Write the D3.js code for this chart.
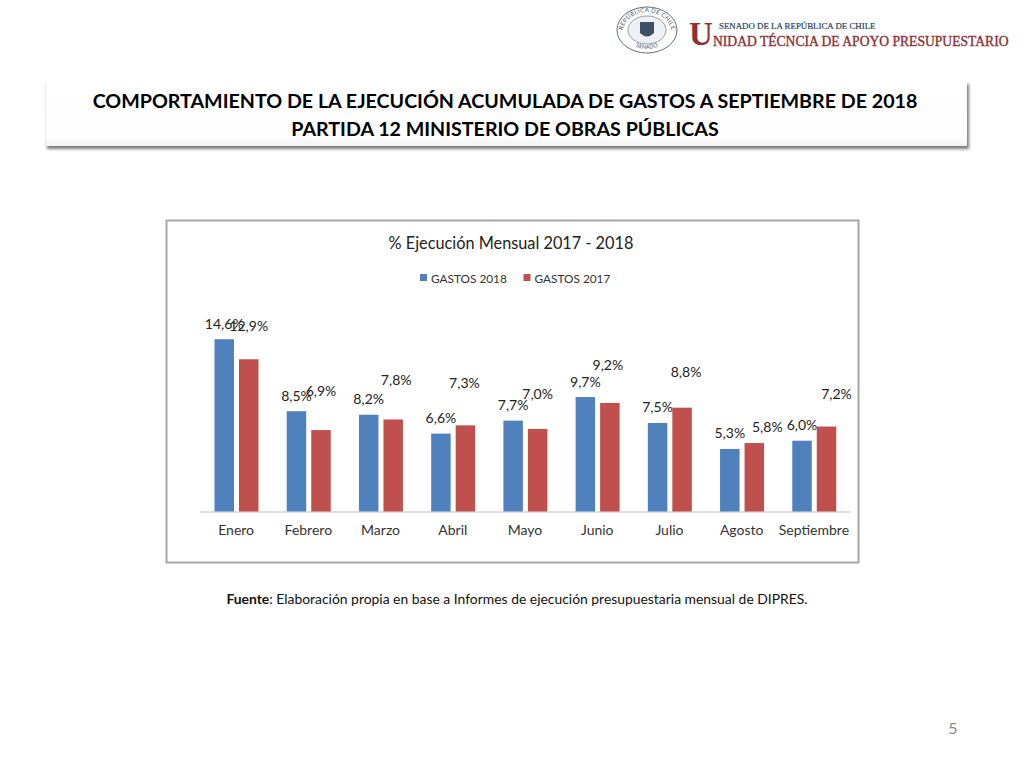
<!DOCTYPE html>
<html>
<head>
<meta charset="utf-8">
<script src="https://cdn.jsdelivr.net/npm/d3@7"></script>
<style>
html, body { margin: 0; padding: 0; background: #fff; }
svg { display: block; font-family: Lato, 'Open Sans', sans-serif; }
</style>
</head>
<body>
<div id="chart"></div>
<script>
const categories = ['Enero', 'Febrero', 'Marzo', 'Abril', 'Mayo', 'Junio', 'Julio', 'Agosto', 'Septiembre'];
const seriesNames = ['GASTOS 2018', 'GASTOS 2017'];
const gastos2018 = [14.6, 8.5, 8.2, 6.6, 7.7, 9.7, 7.5, 5.3, 6.0];
const gastos2017 = [12.9, 6.9, 7.8, 7.3, 7.0, 9.2, 8.8, 5.8, 7.2];

// the data labels were dragged by hand in the original, so each one has its own nudge
const labelNudge2018 = [[0, -10], [0, -10], [0, -11], [0, -11], [0, -11], [0, -10], [0, -11], [0, -11], [0, -11]];
const labelNudge2017 = [[0, -28], [0, -34], [3, -34], [-1, -37], [0, -30], [-2, -33], [4, -31], [13, -11], [10, -28]];

const width = 1024;
const height = 768;
const blue = '#4f81bd';
const red = '#c0504d';
const fmt = v => v.toFixed(1).replace('.', ',') + '%';

const svg = d3.select('#chart').append('svg')
  .attr('width', width)
  .attr('height', height);

const defs = svg.append('defs');
const blur = defs.append('filter').attr('id', 'panel-shadow')
  .attr('x', '-5%').attr('y', '-20%').attr('width', '110%').attr('height', '140%');
blur.append('feGaussianBlur').attr('stdDeviation', 1.6);
const panelFill = defs.append('linearGradient').attr('id', 'panel-fill')
  .attr('x1', 0).attr('x2', 0).attr('y1', 0).attr('y2', 1);
panelFill.append('stop').attr('offset', '0').attr('stop-color', '#ffffff');
panelFill.append('stop').attr('offset', '0.85').attr('stop-color', '#fdfdfd');
panelFill.append('stop').attr('offset', '1').attr('stop-color', '#f3f3f3');
defs.append('path').attr('id', 'seal-top').attr('d', 'M 622 35 A 24 22 0 0 1 672 35');
defs.append('path').attr('id', 'seal-bottom').attr('d', 'M 630 43 A 24 20 0 0 0 664 43');

renderLogo();
renderTitle();
renderChart();

svg.append('text')
  .attr('x', 517).attr('y', 604)
  .attr('text-anchor', 'middle')
  .attr('font-size', 13.9)
  .attr('fill', '#111')
  .call(t => t.append('tspan').attr('font-weight', 700).text('Fuente'))
  .call(t => t.append('tspan').text(': Elaboración propia en base  a Informes de ejecución presupuestaria mensual de DIPRES.'));

svg.append('text')
  .attr('x', 953).attr('y', 734)
  .attr('text-anchor', 'middle')
  .attr('font-size', 16)
  .attr('fill', '#8a8a8a')
  .text('5');

function renderLogo() {
  const g = svg.append('g');
  g.append('ellipse').attr('cx', 647).attr('cy', 30).attr('rx', 30).attr('ry', 23)
    .attr('fill', '#fff').attr('stroke', '#5f6f80').attr('stroke-width', 1);
  g.append('ellipse').attr('cx', 647).attr('cy', 30).attr('rx', 19).attr('ry', 14)
    .attr('fill', '#eef0f3').attr('stroke', '#7c8896').attr('stroke-width', 0.8);
  g.append('path').attr('d', 'M 640 22 L 654 22 L 654 33 Q 647 40 640 33 Z').attr('fill', '#3d5166');
  g.append('text').attr('font-size', 6).attr('fill', '#42566b').attr('letter-spacing', 0.3)
    .append('textPath').attr('href', '#seal-top').attr('startOffset', '50%').attr('text-anchor', 'middle')
    .text('REPÚBLICA DE CHILE');
  g.append('text').attr('font-size', 5.5).attr('fill', '#42566b')
    .append('textPath').attr('href', '#seal-bottom').attr('startOffset', '50%').attr('text-anchor', 'middle')
    .text('SENADO');

  const serif = "'Liberation Serif', 'DejaVu Serif', serif";
  g.append('text').attr('x', 689).attr('y', 45)
    .attr('font-family', serif).attr('font-size', 33).attr('font-weight', 700).attr('fill', '#8e2f33')
    .text('U');
  g.append('text').attr('x', 719).attr('y', 29)
    .attr('font-family', serif).attr('font-size', 8.85).attr('fill', '#24405f')
    .attr('stroke', '#24405f').attr('stroke-width', 0.2)
    .text('SENADO DE LA REPÚBLICA DE CHILE');
  g.append('text').attr('x', 713).attr('y', 46)
    .attr('font-family', serif).attr('font-size', 13.6).attr('fill', '#8e2f33')
    .attr('stroke', '#8e2f33').attr('stroke-width', 0.35)
    .text('NIDAD TÉCNCIA DE APOYO PRESUPUESTARIO');
}

function renderTitle() {
  svg.append('rect')
    .attr('x', 47).attr('y', 84).attr('width', 922).attr('height', 65)
    .attr('fill', '#7a7a7a').attr('filter', 'url(#panel-shadow)');
  svg.append('rect')
    .attr('x', 46).attr('y', 81).attr('width', 921).attr('height', 65)
    .attr('fill', 'url(#panel-fill)');
  svg.selectAll('.title-line')
    .data(['COMPORTAMIENTO DE LA EJECUCIÓN ACUMULADA DE GASTOS A SEPTIEMBRE DE 2018', 'PARTIDA 12 MINISTERIO DE OBRAS PÚBLICAS'])
    .enter().append('text')
    .attr('class', 'title-line')
    .attr('x', 505)
    .attr('y', (d, i) => 108 + i * 28)
    .attr('text-anchor', 'middle')
    .attr('font-size', 19.65)
    .attr('font-weight', 700)
    .attr('fill', '#000')
    .text(d => d);
}

function renderChart() {
  svg.append('rect')
    .attr('x', 166.5).attr('y', 220.5).attr('width', 692).attr('height', 342)
    .attr('fill', '#fff').attr('stroke', '#a6a6a6').attr('stroke-width', 2);

  svg.append('text')
    .attr('x', 511).attr('y', 249)
    .attr('text-anchor', 'middle')
    .attr('font-size', 16.3)
    .attr('fill', '#222')
    .text('% Ejecución Mensual 2017 - 2018');

  const legend = svg.selectAll('.legend-item')
    .data(seriesNames).enter()
    .append('g')
    .attr('class', 'legend-item')
    .attr('transform', (d, i) => `translate(${420 + i * 103.5},274)`);
  legend.append('rect').attr('width', 7).attr('height', 7)
    .attr('fill', (d, i) => i === 0 ? blue : red);
  legend.append('text').attr('x', 11).attr('y', 8.5)
    .attr('font-size', 11.8).attr('fill', '#333')
    .text(d => d);

  const x = d3.scaleBand().domain(categories).range([200, 850]);
  const xInner = d3.scaleBand().domain(seriesNames).range([14.5, 58.5]).paddingInner(0.204);
  const y = d3.scaleLinear().domain([0, 16]).range([511.5, 322.7]);

  const axis = svg.append('g')
    .attr('transform', 'translate(0,511.5)')
    .call(d3.axisBottom(x).tickSize(0).tickPadding(14));
  axis.select('.domain').attr('stroke', '#bfbfbf').attr('stroke-width', 1);
  axis.selectAll('text')
    .attr('font-family', 'Lato, sans-serif')
    .attr('font-size', 14)
    .attr('fill', '#333');

  [gastos2018, gastos2017].forEach((values, s) => {
    const name = seriesNames[s];
    const nudges = s === 0 ? labelNudge2018 : labelNudge2017;
    const color = s === 0 ? blue : red;
    const barX = i => x(categories[i]) + xInner(name);

    svg.append('g').selectAll('rect')
      .data(values).enter()
      .append('rect')
      .attr('x', (d, i) => barX(i))
      .attr('y', d => y(d))
      .attr('width', xInner.bandwidth())
      .attr('height', d => y(0) - y(d))
      .attr('fill', color);

    svg.append('g').selectAll('text')
      .data(values).enter()
      .append('text')
      .attr('x', (d, i) => barX(i) + xInner.bandwidth() / 2 + nudges[i][0])
      .attr('y', (d, i) => y(d) + nudges[i][1])
      .attr('text-anchor', 'middle')
      .attr('font-size', 14)
      .attr('fill', '#222')
      .text(fmt);
  });
}
</script>
</body>
</html>
